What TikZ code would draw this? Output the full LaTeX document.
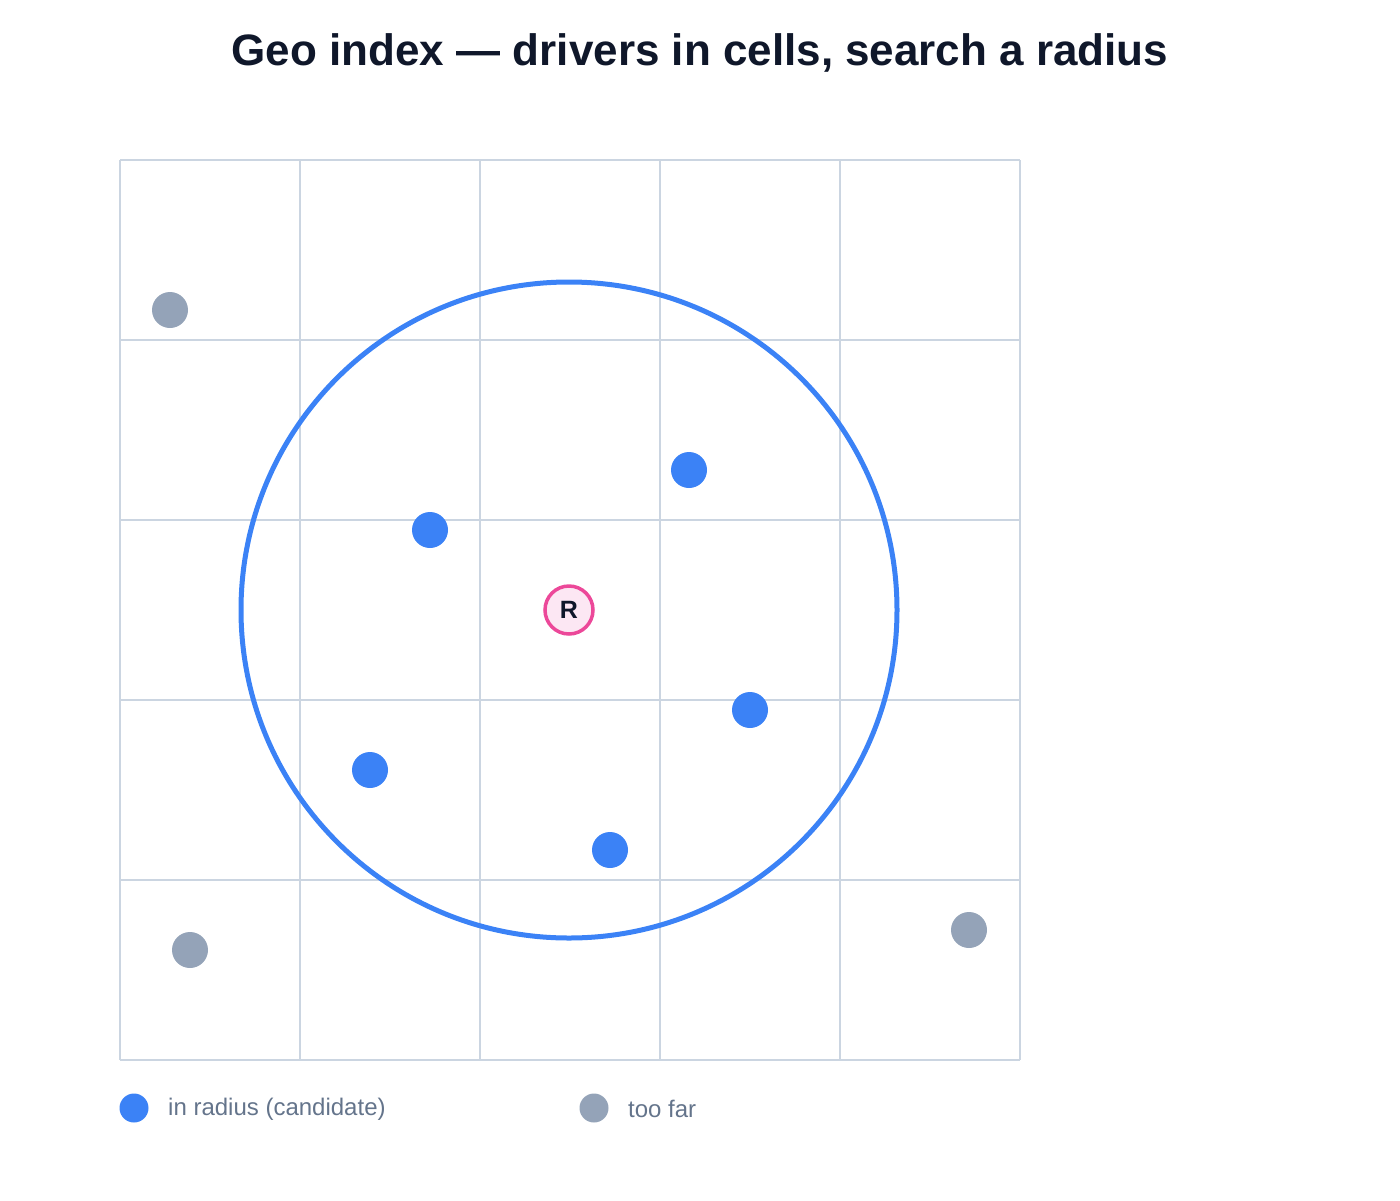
\documentclass[tikz,border=0pt]{standalone}
\usepackage{fontspec}
\setmainfont{Liberation Sans}
\definecolor{gridc}{HTML}{CBD5E1}
\definecolor{bluec}{HTML}{3B82F6}
\definecolor{grayc}{HTML}{94A3B8}
\definecolor{pinkc}{HTML}{EC4899}
\definecolor{pinkf}{HTML}{FCE7F3}
\definecolor{titlec}{HTML}{0F172A}
\definecolor{legc}{HTML}{64748B}
\tikzset{
  near/.style={circle,fill=bluec,inner sep=0pt,minimum size=36pt},
  far/.style={circle,fill=grayc,inner sep=0pt,minimum size=36pt},
  legdot/.style={circle,inner sep=0pt,minimum size=29pt},
  legtext/.style={anchor=west,text=legc,font=\fontsize{24pt}{28pt}\selectfont,inner sep=0pt},
  gridline/.style={gridc,line width=2.5pt},
}
\begin{document}
\begin{tikzpicture}[x=1pt,y=-1pt]
\useasboundingbox (0,0) rectangle (1400,1200);
\node[font=\bfseries\fontsize{44pt}{52pt}\selectfont,text=titlec] (title) at (700,53) {Geo index — drivers in cells, search a radius};
% grid
\foreach \i in {0,...,5} {
  \draw[gridline] (120+180*\i,160) -- (120+180*\i,1060);
  \draw[gridline] (120,160+180*\i) -- (1020,160+180*\i);
}
% search circle
\node[circle,draw=bluec,line width=5pt,minimum size=656pt,inner sep=0pt] (radius) at (569,610) {};
% drivers
\node[near] (d1) at (689,470) {};
\node[near] (d2) at (430,530) {};
\node[near] (d3) at (750,710) {};
\node[near] (d4) at (370,770) {};
\node[near] (d5) at (610,850) {};
\node[far] (f1) at (170,310) {};
\node[far] (f2) at (190,950) {};
\node[far] (f3) at (969,930) {};
% rider
\node[circle,draw=pinkc,fill=pinkf,line width=3.5pt,minimum size=48pt,inner sep=0pt,font=\bfseries\fontsize{25pt}{30pt}\selectfont,text=titlec] (rider) at (569,610) {R};
% legend
\node[legdot,fill=bluec] (l1) at (134,1108) {};
\node[legtext] (l1t) at (168,1109) {in radius (candidate)};
\node[legdot,fill=grayc] (l2) at (594,1108) {};
\node[legtext] (l2t) at (628,1109) {too far};
\end{tikzpicture}
\end{document}
